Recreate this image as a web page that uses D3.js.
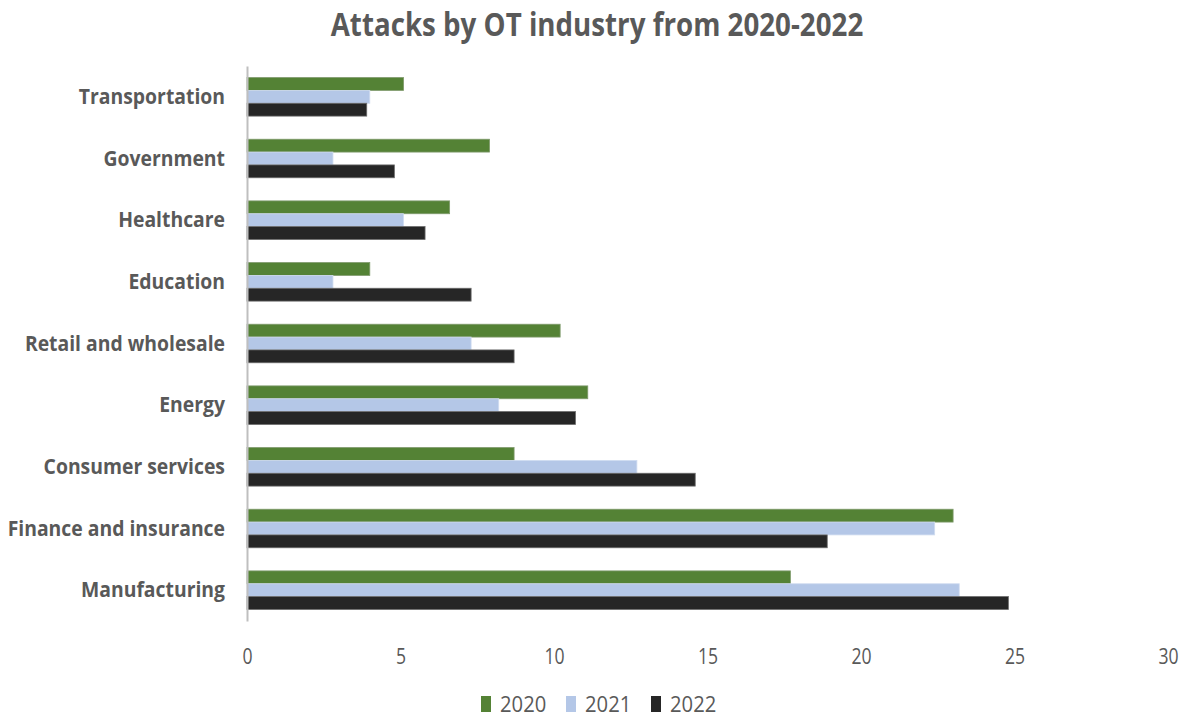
<!DOCTYPE html>
<html>
<head>
<meta charset="utf-8">
<script src="https://cdn.jsdelivr.net/npm/d3@7"></script>
<style>
  body { margin: 0; background: #fff; }
  text { font-family: "Open Sans", "DejaVu Sans", sans-serif; fill: #595959; }
</style>
</head>
<body>
<svg></svg>
<script>
let industries = ["Transportation", "Government", "Healthcare", "Education",
    "Retail and wholesale", "Energy", "Consumer services", "Finance and insurance", "Manufacturing"]
let years = ["2020", "2021", "2022"]
let values2020 = [5.1, 7.9, 6.6, 4.0, 10.2, 11.1, 8.7, 23.0, 17.7]
let values2021 = [4.0, 2.8, 5.1, 2.8, 7.3, 8.2, 12.7, 22.4, 23.2]
let values2022 = [3.9, 4.8, 5.8, 7.3, 8.7, 10.7, 14.6, 18.9, 24.8]
let xTicks = [0, 5, 10, 15, 20, 25, 30]
let colors = {"2020": "#548235", "2021": "#b4c7e7", "2022": "#262626"}
let strokes = {"2020": "#7f9a6c", "2021": "#d0dcf0", "2022": "#6a6a6a"}

let seriesByYear = {"2020": values2020, "2021": values2021, "2022": values2022}

var svg = d3.select("svg")
    .attr("width", 1189)
    .attr("height", 718)

var margin = {top: 66, right: 21, bottom: 97, left: 247}
var graphWidth = 1189 - margin.left - margin.right
var graphHeight = 718 - margin.top - margin.bottom

var g = svg.append("g")
    .attr("transform", `translate(${margin.left}, ${margin.top})`)

let scX = d3.scaleLinear().domain([0, 30]).range([0, graphWidth])
let scY = d3.scaleBand().domain(industries).range([0, graphHeight]).padding(0)
let scYear = d3.scaleBand().domain(years).range([0, scY.bandwidth()])
    .paddingInner(0).paddingOuter(0.9)

// bars
let groups = g.selectAll("g.grp")
    .data(industries).enter().append("g")
    .attr("class", "grp")
    .attr("transform", d => `translate(0, ${scY(d)})`)

groups.selectAll("rect")
    .data((d, i) => years.map(y => ({year: y, value: seriesByYear[y][i]})))
    .enter().append("rect")
    .attr("x", 0)
    .attr("y", d => scYear(d.year))
    .attr("width", d => scX(d.value))
    .attr("height", scYear.bandwidth())
    .attr("fill", d => colors[d.year])
    .attr("stroke", d => strokes[d.year])
    .attr("stroke-width", 0.8)

// x axis (labels only)
let xAxis = d3.axisBottom(scX).tickValues(xTicks).tickSize(0).tickPadding(27)
let xg = g.append("g")
    .attr("transform", `translate(0, ${graphHeight})`)
    .call(xAxis)
xg.select(".domain").remove()
xg.selectAll("text")
    .style("font-size", "22px")
    .style("font-family", "'Open Sans', sans-serif")
    .attr("fill", "#595959")
    .attr("transform", "scale(0.8,1)")

// y axis line + labels
let yAxis = d3.axisLeft(scY).tickSize(0).tickPadding(25)
let yg = g.append("g").call(yAxis)
yg.select(".domain").attr("stroke", "#bfbfbf").attr("stroke-width", 2)
yg.selectAll("text")
    .style("font-size", "22px")
    .style("font-weight", "bold")
    .style("font-family", "'Open Sans', sans-serif")
    .attr("fill", "#595959")
    .attr("transform", "scale(0.88,1)")

// title
svg.append("g")
    .attr("transform", "translate(597,36) scale(0.84,1)")
  .append("text")
    .attr("text-anchor", "middle")
    .style("font-size", "33px")
    .style("font-weight", "bold")
    .text("Attacks by OT industry from 2020-2022")

// legend
let legend = svg.append("g").attr("transform", "translate(481, 704)")
let legItem = legend.selectAll("g")
    .data(years).enter().append("g")
    .attr("transform", (d, i) => `translate(${i * 85}, 0)`)
legItem.append("rect")
    .attr("x", 0).attr("y", -8)
    .attr("width", 10).attr("height", 16)
    .attr("fill", d => colors[d])
legItem.append("g")
    .attr("transform", "translate(19, 8) scale(0.92,1)")
  .append("text")
    .style("font-size", "22px")
    .text(d => d)
</script>
</body>
</html>
